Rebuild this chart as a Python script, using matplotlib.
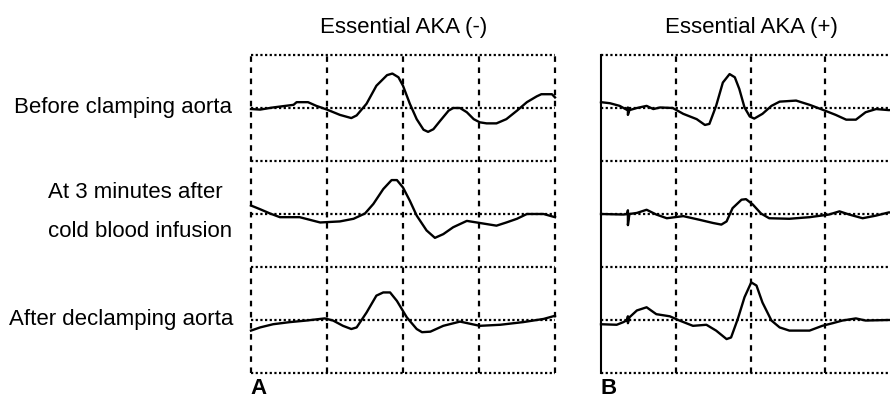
import matplotlib
matplotlib.use("Agg")
import matplotlib.pyplot as plt
import numpy as np

plt.rcParams['font.family'] = ['Liberation Sans', 'DejaVu Sans']

panel_titles = ["Essential AKA (-)", "Essential AKA (+)"]
panel_letters = ["A", "B"]
row_labels = ["Before clamping aorta", "At 3 minutes after", "cold blood infusion", "After declamping aorta"]
baselines = [5, 3, 1]

# Panel A traces: time (grid divisions), amplitude (divisions)
a1_t = [0, 0.12, 0.29, 0.56, 0.60, 0.75, 0.86, 1.0, 1.17, 1.32, 1.39, 1.52, 1.65, 1.79, 1.86, 1.94, 2.0,
        2.09, 2.18, 2.27, 2.33, 2.40, 2.49, 2.60, 2.66, 2.75, 2.84, 2.93, 3.01, 3.10, 3.23, 3.36, 3.50,
        3.63, 3.76, 3.82, 3.96, 4.0]
a1_v = [-0.02, -0.03, 0.01, 0.06, 0.11, 0.11, 0.04, -0.03, -0.13, -0.19, -0.14, 0.08, 0.42, 0.62, 0.65,
        0.58, 0.42, 0.08, -0.21, -0.41, -0.45, -0.40, -0.24, -0.05, 0.0, 0.0, -0.08, -0.21, -0.27, -0.29,
        -0.29, -0.21, -0.05, 0.11, 0.22, 0.26, 0.26, 0.20]

a2_t = [0, 0.12, 0.25, 0.38, 0.64, 0.91, 1.17, 1.35, 1.50, 1.61, 1.74, 1.85, 1.92, 2.0, 2.09, 2.18, 2.31,
        2.42, 2.53, 2.66, 2.84, 2.97, 3.10, 3.23, 3.36, 3.50, 3.63, 3.85, 4.0]
a2_v = [0.16, 0.09, 0.01, -0.06, -0.06, -0.16, -0.14, -0.09, 0.01, 0.19, 0.47, 0.64, 0.64, 0.50, 0.25,
        -0.03, -0.31, -0.45, -0.38, -0.25, -0.13, -0.16, -0.19, -0.22, -0.16, -0.09, 0.0, 0.0, -0.06]

a3_t = [0, 0.12, 0.29, 0.51, 0.73, 0.97, 1.08, 1.21, 1.32, 1.39, 1.52, 1.65, 1.74, 1.83, 1.92, 2.05, 2.18,
        2.25, 2.36, 2.53, 2.75, 3.01, 3.28, 3.58, 3.85, 4.0]
a3_v = [-0.20, -0.14, -0.08, -0.04, -0.01, 0.03, -0.01, -0.11, -0.17, -0.14, 0.14, 0.46, 0.52, 0.52, 0.36,
        0.05, -0.17, -0.23, -0.22, -0.11, -0.03, -0.11, -0.09, -0.04, 0.02, 0.08]

# Panel B traces
b1_t = [0, 0.12, 0.25, 0.34, 0.36, 0.36, 0.38, 0.48, 0.61, 0.70, 0.79, 0.96, 1.10, 1.28, 1.39, 1.45, 1.54,
        1.63, 1.72, 1.79, 1.85, 1.92, 1.99, 2.05, 2.16, 2.28, 2.39, 2.61, 2.79, 2.96, 3.14, 3.28, 3.41,
        3.54, 3.68, 3.85, 4.0]
b1_v = [0.11, 0.09, 0.04, -0.03, 0.01, -0.13, -0.04, 0.0, 0.04, -0.02, 0.01, 0.0, -0.11, -0.21, -0.32,
        -0.30, 0.04, 0.48, 0.64, 0.58, 0.36, 0.01, -0.16, -0.20, -0.11, 0.04, 0.12, 0.14, 0.06, -0.03,
        -0.13, -0.22, -0.22, -0.08, -0.02, -0.04, -0.03]

b2_t = [0, 0.30, 0.35, 0.36, 0.36, 0.38, 0.48, 0.61, 0.74, 0.88, 1.10, 1.32, 1.50, 1.61, 1.68, 1.76, 1.88,
        1.94, 2.03, 2.14, 2.25, 2.52, 2.79, 3.05, 3.19, 3.32, 3.50, 3.68, 3.85, 4.0]
b2_v = [0.0, -0.01, 0.0, 0.07, -0.21, 0.0, 0.02, 0.08, -0.01, -0.08, -0.04, -0.11, -0.17, -0.20, -0.14,
        0.11, 0.27, 0.28, 0.18, 0.01, -0.08, -0.09, -0.06, -0.01, 0.05, -0.01, -0.08, -0.03, 0.03, 0.02]

b3_t = [0, 0.21, 0.30, 0.35, 0.36, 0.36, 0.38, 0.48, 0.61, 0.74, 0.92, 1.05, 1.23, 1.41, 1.54, 1.68, 1.74,
        1.83, 1.92, 2.01, 2.08, 2.16, 2.28, 2.39, 2.52, 2.79, 2.96, 3.10, 3.23, 3.41, 3.54, 3.85, 4.0]
b3_v = [-0.08, -0.09, -0.04, 0.0, 0.07, -0.06, 0.05, 0.18, 0.24, 0.11, 0.07, -0.01, -0.11, -0.09, -0.20,
        -0.36, -0.33, 0.02, 0.43, 0.71, 0.65, 0.33, -0.01, -0.14, -0.20, -0.20, -0.11, -0.06, -0.01, 0.03,
        -0.01, 0.0, 0.0]

traces = [[(a1_t, a1_v), (a2_t, a2_v), (a3_t, a3_v)],
          [(b1_t, b1_v), (b2_t, b2_v), (b3_t, b3_v)]]

W, H = 890, 400
fig = plt.figure(figsize=(W / 100, H / 100), dpi=100)

panel_px = [(251, 555), (601, 900)]
title_cx = [404, 751]
top_px, bot_px = 55, 373

for i, (x0, x1) in enumerate(panel_px):
    ax = fig.add_axes([x0 / W, 1 - bot_px / H, (x1 - x0) / W, (bot_px - top_px) / H])
    ax.set_xlim(0, 4)
    ax.set_ylim(0, 6)
    for s in ax.spines.values():
        s.set_visible(False)
    ax.set_xticks([])
    ax.set_yticks([])
    for y in range(7):
        ax.axhline(y, color='black', lw=1.6, ls=(0, (1, 1.1)), zorder=1, clip_on=False)
    for x in range(5):
        if i == 1 and x == 0:
            ax.axvline(x, color='black', lw=1.5, ls='-', zorder=1, clip_on=False)
        else:
            ax.axvline(x, color='black', lw=1.6, ls=(0, (2.5, 2.5)), zorder=1, clip_on=False)
    for (t, v), base in zip(traces[i], baselines):
        ax.plot(t, np.array(v) + base, color='black', lw=1.7, zorder=3, clip_on=False,
                solid_joinstyle='round')
    fig.text(title_cx[i] / W, 1 - 28 / H, panel_titles[i], ha='center', va='center', fontsize=16)
    fig.text((x0 - 1) / W, 1 - 388 / H, panel_letters[i], ha='left', va='center',
             fontsize=16, fontweight='bold')

fig.text(232 / W, 1 - 107 / H, row_labels[0], ha='right', va='center', fontsize=16)
fig.text(48 / W, 1 - 193 / H, row_labels[1], ha='left', va='center', fontsize=16)
fig.text(48 / W, 1 - 232 / H, row_labels[2], ha='left', va='center', fontsize=16)
fig.text(233 / W, 1 - 320 / H, row_labels[3], ha='right', va='center', fontsize=16)

fig.savefig("out.png", dpi=100)
